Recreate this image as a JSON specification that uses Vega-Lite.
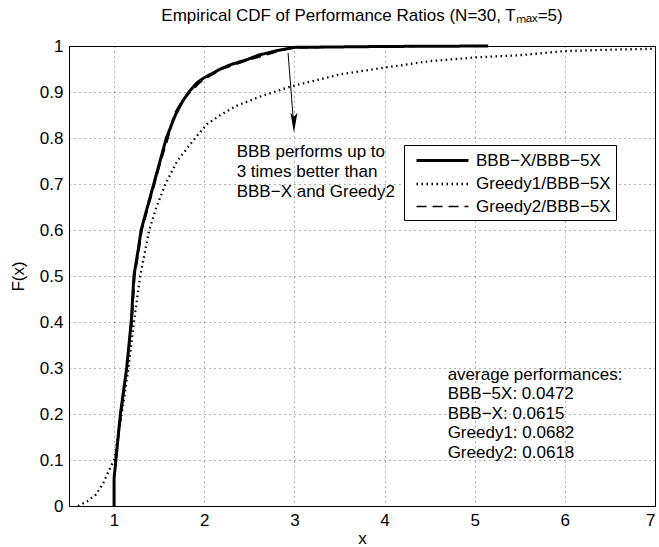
{
  "$schema": "https://vega.github.io/schema/vega-lite/v6.json",
  "width": 586,
  "height": 460,
  "autosize": "none",
  "padding": {"left": 69, "top": 46, "right": 4, "bottom": 41},
  "background": "white",
  "title": {"text": "Empirical CDF of Performance Ratios (N=30, Tₘₐₓ=5)", "fontSize": 17, "fontWeight": "normal", "font": "Liberation Sans", "color": "black", "offset": 12},
  "config": {
    "view": {"stroke": "black", "strokeWidth": 1},
    "font": "Liberation Sans",
    "axis": {"labelFont": "Liberation Sans", "titleFont": "Liberation Sans", "labelFontSize": 17, "titleFontSize": 17, "titleFontWeight": "normal", "labelColor": "black", "titleColor": "black", "domainColor": "black", "domainWidth": 1, "gridColor": "black", "gridDash": [1, 4], "gridOpacity": 0.6, "ticks": false, "labelPadding": 6}
  },
  "layer": [
    {
      "data": {"values": [
        {"series": "BBB−X/BBB−5X", "i": 1, "x": 1.0, "F": 0},
        {"series": "BBB−X/BBB−5X", "i": 2, "x": 1.0, "F": 0.06},
        {"series": "BBB−X/BBB−5X", "i": 3, "x": 1.02, "F": 0.1},
        {"series": "BBB−X/BBB−5X", "i": 4, "x": 1.07, "F": 0.2},
        {"series": "BBB−X/BBB−5X", "i": 5, "x": 1.14, "F": 0.3},
        {"series": "BBB−X/BBB−5X", "i": 6, "x": 1.19, "F": 0.4},
        {"series": "BBB−X/BBB−5X", "i": 7, "x": 1.22, "F": 0.5},
        {"series": "BBB−X/BBB−5X", "i": 8, "x": 1.27, "F": 0.56},
        {"series": "BBB−X/BBB−5X", "i": 9, "x": 1.30, "F": 0.6},
        {"series": "BBB−X/BBB−5X", "i": 10, "x": 1.37, "F": 0.65},
        {"series": "BBB−X/BBB−5X", "i": 11, "x": 1.44, "F": 0.7},
        {"series": "BBB−X/BBB−5X", "i": 12, "x": 1.51, "F": 0.75},
        {"series": "BBB−X/BBB−5X", "i": 13, "x": 1.58, "F": 0.8},
        {"series": "BBB−X/BBB−5X", "i": 14, "x": 1.68, "F": 0.85},
        {"series": "BBB−X/BBB−5X", "i": 15, "x": 1.76, "F": 0.88},
        {"series": "BBB−X/BBB−5X", "i": 16, "x": 1.83, "F": 0.9},
        {"series": "BBB−X/BBB−5X", "i": 17, "x": 1.92, "F": 0.92},
        {"series": "BBB−X/BBB−5X", "i": 18, "x": 1.99, "F": 0.93},
        {"series": "BBB−X/BBB−5X", "i": 19, "x": 2.18, "F": 0.95},
        {"series": "BBB−X/BBB−5X", "i": 20, "x": 2.3, "F": 0.96},
        {"series": "BBB−X/BBB−5X", "i": 21, "x": 2.47, "F": 0.97},
        {"series": "BBB−X/BBB−5X", "i": 22, "x": 2.6, "F": 0.98},
        {"series": "BBB−X/BBB−5X", "i": 23, "x": 2.81, "F": 0.99},
        {"series": "BBB−X/BBB−5X", "i": 24, "x": 3.0, "F": 0.997},
        {"series": "BBB−X/BBB−5X", "i": 25, "x": 3.5, "F": 0.998},
        {"series": "BBB−X/BBB−5X", "i": 26, "x": 4.0, "F": 0.999},
        {"series": "BBB−X/BBB−5X", "i": 27, "x": 5.15, "F": 1.0},
        {"series": "Greedy1/BBB−5X", "i": 1, "x": 0.6, "F": 0},
        {"series": "Greedy1/BBB−5X", "i": 2, "x": 0.7, "F": 0.01},
        {"series": "Greedy1/BBB−5X", "i": 3, "x": 0.8, "F": 0.025},
        {"series": "Greedy1/BBB−5X", "i": 4, "x": 0.88, "F": 0.05},
        {"series": "Greedy1/BBB−5X", "i": 5, "x": 0.95, "F": 0.08},
        {"series": "Greedy1/BBB−5X", "i": 6, "x": 1.0, "F": 0.1},
        {"series": "Greedy1/BBB−5X", "i": 7, "x": 1.05, "F": 0.16},
        {"series": "Greedy1/BBB−5X", "i": 8, "x": 1.1, "F": 0.22},
        {"series": "Greedy1/BBB−5X", "i": 9, "x": 1.16, "F": 0.3},
        {"series": "Greedy1/BBB−5X", "i": 10, "x": 1.22, "F": 0.4},
        {"series": "Greedy1/BBB−5X", "i": 11, "x": 1.29, "F": 0.5},
        {"series": "Greedy1/BBB−5X", "i": 12, "x": 1.35, "F": 0.56},
        {"series": "Greedy1/BBB−5X", "i": 13, "x": 1.39, "F": 0.6},
        {"series": "Greedy1/BBB−5X", "i": 14, "x": 1.47, "F": 0.65},
        {"series": "Greedy1/BBB−5X", "i": 15, "x": 1.57, "F": 0.7},
        {"series": "Greedy1/BBB−5X", "i": 16, "x": 1.70, "F": 0.75},
        {"series": "Greedy1/BBB−5X", "i": 17, "x": 1.90, "F": 0.8},
        {"series": "Greedy1/BBB−5X", "i": 18, "x": 2.03, "F": 0.83},
        {"series": "Greedy1/BBB−5X", "i": 19, "x": 2.18, "F": 0.85},
        {"series": "Greedy1/BBB−5X", "i": 20, "x": 2.36, "F": 0.87},
        {"series": "Greedy1/BBB−5X", "i": 21, "x": 2.62, "F": 0.89},
        {"series": "Greedy1/BBB−5X", "i": 22, "x": 2.96, "F": 0.912},
        {"series": "Greedy1/BBB−5X", "i": 23, "x": 3.5, "F": 0.938},
        {"series": "Greedy1/BBB−5X", "i": 24, "x": 4.0, "F": 0.953},
        {"series": "Greedy1/BBB−5X", "i": 25, "x": 4.5, "F": 0.967},
        {"series": "Greedy1/BBB−5X", "i": 26, "x": 5.0, "F": 0.975},
        {"series": "Greedy1/BBB−5X", "i": 27, "x": 5.5, "F": 0.98},
        {"series": "Greedy1/BBB−5X", "i": 28, "x": 6.0, "F": 0.989},
        {"series": "Greedy1/BBB−5X", "i": 29, "x": 6.5, "F": 0.992},
        {"series": "Greedy1/BBB−5X", "i": 30, "x": 7.0, "F": 0.994},
        {"series": "Greedy2/BBB−5X", "i": 1, "x": 1.0, "F": 0},
        {"series": "Greedy2/BBB−5X", "i": 2, "x": 1.0, "F": 0.05},
        {"series": "Greedy2/BBB−5X", "i": 3, "x": 1.02, "F": 0.1},
        {"series": "Greedy2/BBB−5X", "i": 4, "x": 1.08, "F": 0.2},
        {"series": "Greedy2/BBB−5X", "i": 5, "x": 1.14, "F": 0.3},
        {"series": "Greedy2/BBB−5X", "i": 6, "x": 1.2, "F": 0.4},
        {"series": "Greedy2/BBB−5X", "i": 7, "x": 1.23, "F": 0.5},
        {"series": "Greedy2/BBB−5X", "i": 8, "x": 1.28, "F": 0.56},
        {"series": "Greedy2/BBB−5X", "i": 9, "x": 1.31, "F": 0.6},
        {"series": "Greedy2/BBB−5X", "i": 10, "x": 1.38, "F": 0.65},
        {"series": "Greedy2/BBB−5X", "i": 11, "x": 1.45, "F": 0.7},
        {"series": "Greedy2/BBB−5X", "i": 12, "x": 1.52, "F": 0.75},
        {"series": "Greedy2/BBB−5X", "i": 13, "x": 1.6, "F": 0.8},
        {"series": "Greedy2/BBB−5X", "i": 14, "x": 1.66, "F": 0.85},
        {"series": "Greedy2/BBB−5X", "i": 15, "x": 1.75, "F": 0.88},
        {"series": "Greedy2/BBB−5X", "i": 16, "x": 1.85, "F": 0.9},
        {"series": "Greedy2/BBB−5X", "i": 17, "x": 1.95, "F": 0.92},
        {"series": "Greedy2/BBB−5X", "i": 18, "x": 2.02, "F": 0.93},
        {"series": "Greedy2/BBB−5X", "i": 19, "x": 2.2, "F": 0.95},
        {"series": "Greedy2/BBB−5X", "i": 20, "x": 2.5, "F": 0.97},
        {"series": "Greedy2/BBB−5X", "i": 21, "x": 2.85, "F": 0.99},
        {"series": "Greedy2/BBB−5X", "i": 22, "x": 3.0, "F": 0.996},
        {"series": "Greedy2/BBB−5X", "i": 23, "x": 4.0, "F": 0.999},
        {"series": "Greedy2/BBB−5X", "i": 24, "x": 5.1, "F": 1.0}
      ]},
      "mark": {"type": "line", "color": "black", "interpolate": "linear"},
      "encoding": {
        "x": {"field": "x", "type": "quantitative", "scale": {"domain": [0.5, 7], "nice": false, "zero": false}, "axis": {"title": "x", "values": [1, 2, 3, 4, 5, 6, 7], "format": "d", "titlePadding": 2}},
        "y": {"field": "F", "type": "quantitative", "scale": {"domain": [0, 1], "nice": false}, "axis": {"title": "F(x)", "values": [0, 0.1, 0.2, 0.3, 0.4, 0.5, 0.6, 0.7, 0.8, 0.9, 1], "format": "~g", "titlePadding": 12}},
        "order": {"field": "i", "type": "quantitative"},
        "strokeDash": {"field": "series", "type": "nominal", "scale": {"domain": ["BBB−X/BBB−5X", "Greedy1/BBB−5X", "Greedy2/BBB−5X"], "range": [[1, 0], [1.5, 3.5], [10, 6]]},
          "legend": {"title": null, "orient": "none", "legendX": 335, "legendY": 99, "strokeColor": "black", "fillColor": "white", "padding": 5, "labelFontSize": 17, "labelFont": "Liberation Sans", "labelColor": "black", "symbolType": "M-3,0H3", "symbolSize": 300, "symbolStrokeColor": "black", "symbolOffset": 23, "labelOffset": 23, "rowPadding": 5}},
        "strokeWidth": {"field": "series", "type": "nominal", "scale": {"domain": ["BBB−X/BBB−5X", "Greedy1/BBB−5X", "Greedy2/BBB−5X"], "range": [3, 1.6, 3]}}
      }
    },
    {
      "data": {"values": [{"x": 2.93, "F": 0.985, "x2": 2.99, "F2": 0.835}]},
      "mark": {"type": "rule", "color": "black", "strokeWidth": 1},
      "encoding": {
        "x": {"field": "x", "type": "quantitative"},
        "y": {"field": "F", "type": "quantitative"},
        "x2": {"field": "x2"},
        "y2": {"field": "F2"}
      }
    },
    {
      "data": {"values": [{"x": 2.995, "F": 0.833}]},
      "mark": {"type": "point", "shape": "M0,1L-0.35,-1L0,-0.6L0.35,-1Z", "size": 400, "filled": true, "color": "black", "opacity": 1},
      "encoding": {
        "x": {"field": "x", "type": "quantitative"},
        "y": {"field": "F", "type": "quantitative"}
      }
    },
    {
      "data": {"values": [
        {"x": 2.36, "F": 0.77, "label": "BBB performs up to"},
        {"x": 2.36, "F": 0.726, "label": "3 times better than"},
        {"x": 2.36, "F": 0.683, "label": "BBB−X and Greedy2"},
        {"x": 4.7, "F": 0.285, "label": "average performances:"},
        {"x": 4.7, "F": 0.243, "label": "BBB−5X: 0.0472"},
        {"x": 4.7, "F": 0.2, "label": "BBB−X: 0.0615"},
        {"x": 4.7, "F": 0.158, "label": "Greedy1: 0.0682"},
        {"x": 4.7, "F": 0.115, "label": "Greedy2: 0.0618"}
      ]},
      "mark": {"type": "text", "align": "left", "baseline": "middle", "fontSize": 17, "font": "Liberation Sans", "color": "black"},
      "encoding": {
        "x": {"field": "x", "type": "quantitative"},
        "y": {"field": "F", "type": "quantitative"},
        "text": {"field": "label"}
      }
    }
  ]
}
